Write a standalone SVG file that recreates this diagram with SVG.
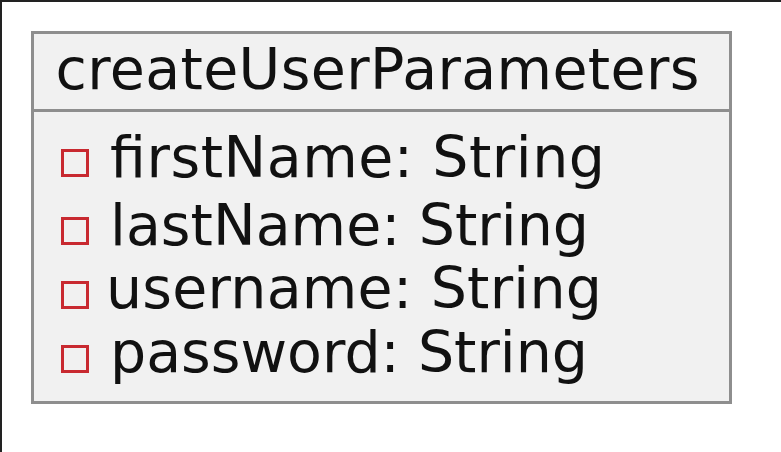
<svg xmlns="http://www.w3.org/2000/svg" width="781" height="452" viewBox="0 0 781 452">
<style>
.t{font-family:"DejaVu Sans",sans-serif;font-size:57px;fill:#111}
.box{fill:#F1F1F1;stroke:#8E8E8E;stroke-width:3}
.sep{stroke:#8E8E8E;stroke-width:3}
.vis{fill:none;stroke:#C82930;stroke-width:3}
</style>
<rect x="0" y="0" width="781" height="452" fill="#fff"/>
<line x1="0" y1="1" x2="781" y2="1" stroke="#222" stroke-width="2"/>
<line x1="1" y1="0" x2="1" y2="452" stroke="#222" stroke-width="2"/>
<g id="createUserParameters">
<rect class="box" x="32.5" y="32.5" width="698" height="370"/>
<line class="sep" x1="32.5" y1="110.5" x2="730.5" y2="110.5"/>
<text class="t" x="55.5" y="89" textLength="644" lengthAdjust="spacing">createUserParameters</text>
<rect class="vis" x="62.5" y="150.5" width="25" height="25"/>
<text class="t" x="110" y="177" textLength="495" lengthAdjust="spacing">firstName: String</text>
<rect class="vis" x="62.5" y="218.5" width="25" height="25"/>
<text class="t" x="110" y="245" textLength="479" lengthAdjust="spacing">lastName: String</text>
<rect class="vis" x="62.5" y="282.5" width="25" height="25"/>
<text class="t" x="106" y="308" textLength="496" lengthAdjust="spacing">username: String</text>
<rect class="vis" x="62.5" y="346.5" width="25" height="25"/>
<text class="t" x="110" y="372" textLength="478" lengthAdjust="spacing">password: String</text>
</g>
<g id="connectors"/>
</svg>
